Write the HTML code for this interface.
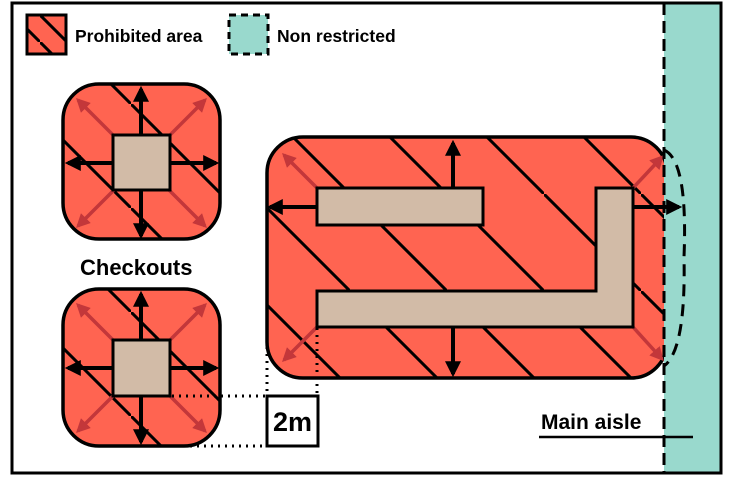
<!DOCTYPE html>
<html><head><meta charset="utf-8"><style>
html,body{margin:0;padding:0;background:#fff;}
svg{display:block;}
text{font-family:"Liberation Sans",sans-serif;font-weight:bold;fill:#000;}
</style></head><body>
<svg width="730" height="479" viewBox="0 0 730 479" xmlns="http://www.w3.org/2000/svg">
<defs>
<pattern id="hb" patternUnits="userSpaceOnUse" x="59" y="0" width="97" height="97">
<path d="M-2,-2 L99,99" stroke="#000" stroke-width="3"/></pattern>
<pattern id="hc" patternUnits="userSpaceOnUse" x="27" y="0" width="104" height="104">
<path d="M-2,-2 L106,106" stroke="#000" stroke-width="3"/></pattern>
<pattern id="hl" patternUnits="userSpaceOnUse" x="40" y="15" width="27" height="27">
<path d="M-2,-2 L29,29" stroke="#000" stroke-width="3"/></pattern>
<marker id="ab" viewBox="0 0 10 10" refX="8" refY="5" markerWidth="4" markerHeight="4" orient="auto-start-reverse"><path d="M0,0L10,5L0,10z" fill="#000"/></marker>
<marker id="ar" viewBox="0 0 10 10" refX="8" refY="5" markerWidth="4" markerHeight="4" orient="auto-start-reverse"><path d="M0,0L10,5L0,10z" fill="#C3373A"/></marker>
</defs>
<rect x="12" y="3" width="709" height="470" fill="#fff"/>
<rect x="664" y="3" width="57" height="470" fill="#99D9CD"/>
<rect x="12" y="3" width="709" height="470" fill="none" stroke="#000" stroke-width="3"/>

<!-- legend -->
<rect x="27" y="15" width="39" height="39" fill="#FF6451"/>
<rect x="27" y="15" width="39" height="39" fill="url(#hl)"/>
<rect x="27" y="15" width="39" height="39" fill="none" stroke="#000" stroke-width="3"/>
<text x="75" y="42" font-size="17.5">Prohibited area</text>
<rect x="229" y="15" width="39" height="39" fill="#99D9CD" stroke="#000" stroke-width="3" stroke-dasharray="7,5"/>
<text x="277" y="42" font-size="17.5">Non restricted</text>

<!-- checkout 1 -->
<g>
<rect x="63" y="84" width="157" height="155" rx="36" fill="#FF6451"/>
<rect x="63" y="84" width="157" height="155" rx="36" fill="url(#hc)"/>
<rect x="63" y="84" width="157" height="155" rx="36" fill="none" stroke="#000" stroke-width="3.5"/>
<g stroke="#C3373A" stroke-width="3.5" marker-end="url(#ar)">
<line x1="123" y1="145" x2="78" y2="100"/><line x1="160" y1="145" x2="205" y2="100"/>
<line x1="123" y1="181" x2="78" y2="226"/><line x1="160" y1="181" x2="205" y2="226"/>
</g>
<g stroke="#000" stroke-width="4" marker-end="url(#ab)">
<line x1="141" y1="135" x2="141" y2="89"/><line x1="141" y1="190" x2="141" y2="236"/>
<line x1="113" y1="163" x2="68" y2="163"/><line x1="170" y1="163" x2="216" y2="163"/>
</g>
<rect x="113" y="135" width="57" height="55" fill="#D2BBA7" stroke="#000" stroke-width="3"/>
</g>
<text x="80" y="275" font-size="22">Checkouts</text>

<!-- checkout 2 -->
<g>
<rect x="63" y="289" width="157" height="157" rx="36" fill="#FF6451"/>
<rect x="63" y="289" width="157" height="157" rx="36" fill="url(#hc)"/>
<rect x="63" y="289" width="157" height="157" rx="36" fill="none" stroke="#000" stroke-width="3.5"/>
<g stroke="#C3373A" stroke-width="3.5" marker-end="url(#ar)">
<line x1="123" y1="350" x2="78" y2="305"/><line x1="160" y1="350" x2="205" y2="305"/>
<line x1="123" y1="386" x2="78" y2="431"/><line x1="160" y1="386" x2="205" y2="431"/>
</g>
<g stroke="#000" stroke-width="4" marker-end="url(#ab)">
<line x1="141" y1="340" x2="141" y2="294"/><line x1="141" y1="396" x2="141" y2="442"/>
<line x1="113" y1="368" x2="68" y2="368"/><line x1="170" y1="368" x2="216" y2="368"/>
</g>
<rect x="113" y="340" width="57" height="56" fill="#D2BBA7" stroke="#000" stroke-width="3"/>
</g>

<!-- big area -->
<rect x="267" y="137" width="400" height="241" rx="36" fill="#FF6451"/>
<rect x="267" y="137" width="400" height="241" rx="36" fill="url(#hb)"/>
<rect x="267" y="137" width="400" height="241" rx="36" fill="none" stroke="#000" stroke-width="3.5"/>
<rect x="664" y="137" width="6" height="241" fill="#99D9CD"/>
<g stroke="#C3373A" stroke-width="3.5" marker-end="url(#ar)">
<line x1="317" y1="188" x2="284" y2="155"/><line x1="317" y1="327" x2="284" y2="360"/>
<line x1="633" y1="188" x2="662" y2="157"/><line x1="633" y1="327" x2="662" y2="359"/>
</g>
<g stroke="#000" stroke-width="4" marker-end="url(#ab)">
<line x1="453" y1="188" x2="453" y2="143"/><line x1="453" y1="327" x2="453" y2="374"/>
<line x1="317" y1="207" x2="270" y2="207"/><line x1="633" y1="207" x2="679" y2="207"/>
</g>
<rect x="317" y="188" width="166" height="37" fill="#D2BBA7" stroke="#000" stroke-width="3"/>
<path d="M317,291 L596,291 L596,188 L633,188 L633,327 L317,327 Z" fill="#D2BBA7" stroke="#000" stroke-width="3"/>
<path d="M664,150 Q688,160 684,257 Q686,350 664,366" fill="none" stroke="#000" stroke-width="3" stroke-dasharray="12,8"/>
<line x1="664" y1="3" x2="664" y2="473" stroke="#000" stroke-width="3" stroke-dasharray="12,6"/>

<!-- 2m -->
<g stroke="#000" stroke-width="3" stroke-dasharray="2,5" fill="none">
<line x1="267" y1="340" x2="267" y2="396"/><line x1="317" y1="328" x2="317" y2="396"/>
<line x1="172" y1="396" x2="267" y2="396"/><line x1="190" y1="446" x2="267" y2="446"/>
</g>
<rect x="267" y="396" width="51" height="50" fill="#fff" stroke="#000" stroke-width="3"/>
<text x="292.5" y="431" font-size="27" text-anchor="middle">2m</text>

<text x="541" y="429" font-size="21">Main aisle</text>
<line x1="539" y1="437" x2="693" y2="437" stroke="#000" stroke-width="2.5"/>
</svg>
</body></html>
